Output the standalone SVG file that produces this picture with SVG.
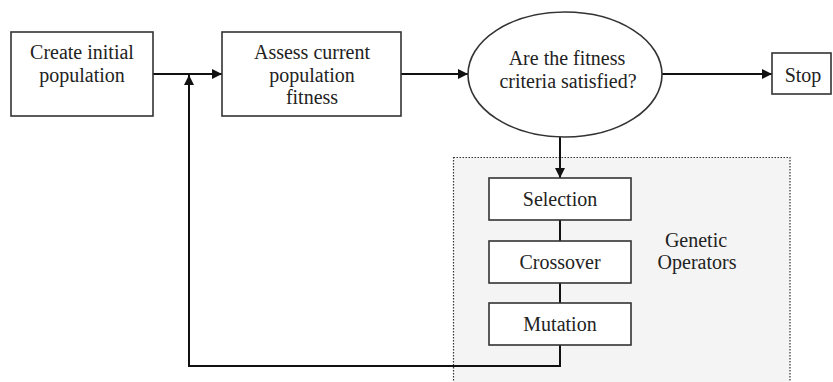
<svg xmlns="http://www.w3.org/2000/svg" width="833" height="382" viewBox="0 0 833 382">
<style>
.box{fill:#fff;stroke:#333;stroke-width:1.6}
.t{font-family:"Liberation Serif","Times New Roman",serif;font-size:20px;fill:#222;text-anchor:middle}
.c{fill:none;stroke:#111;stroke-width:2}
.region{fill:#f4f4f4;stroke:#333;stroke-width:1.2;stroke-dasharray:1.5 1.5}
</style>
<defs>
<marker id="ah" viewBox="0 0 10 10" refX="10" refY="5" markerWidth="11" markerHeight="10" markerUnits="userSpaceOnUse" orient="auto">
<path d="M0,0 L10,5 L0,10 z" fill="#111"/>
</marker>
</defs>
<rect width="833" height="382" fill="#fff"/>
<g id="genetic-operators">
<rect class="region" x="453.5" y="157.5" width="336.5" height="240"/>
<text class="t" x="696" y="247">Genetic</text>
<text class="t" x="697" y="269">Operators</text>
</g>
<g id="connectors">
<line class="c" x1="153" y1="74" x2="222" y2="74" marker-end="url(#ah)"/>
<line class="c" x1="401" y1="74" x2="468" y2="74" marker-end="url(#ah)"/>
<line class="c" x1="662" y1="74" x2="772" y2="74" marker-end="url(#ah)"/>
<line class="c" x1="560" y1="137" x2="560" y2="178" marker-end="url(#ah)"/>
<line class="c" x1="560" y1="220" x2="560" y2="241" stroke-width="1.5"/>
<line class="c" x1="560" y1="283" x2="560" y2="303" stroke-width="1.5"/>
<path class="c" d="M560,345 V366 H189 V75" marker-end="url(#ah)"/>
</g>
<g id="create">
<rect class="box" x="11" y="32" width="142" height="84"/>
<text class="t" x="82" y="59">Create initial</text>
<text class="t" x="82" y="82">population</text>
</g>
<g id="assess">
<rect class="box" x="222" y="32" width="179" height="84"/>
<text class="t" x="312" y="59">Assess current</text>
<text class="t" x="312" y="82">population</text>
<text class="t" x="312" y="104">fitness</text>
</g>
<g id="criteria">
<ellipse class="box" cx="565" cy="74.5" rx="97" ry="62.5"/>
<text class="t" x="567" y="65">Are the fitness</text>
<text class="t" x="568" y="88">criteria satisfied?</text>
</g>
<g id="stop">
<rect class="box" x="772" y="53" width="59" height="41"/>
<text class="t" x="803" y="82">Stop</text>
</g>
<g id="selection">
<rect class="box" x="489" y="178" width="142" height="42"/>
<text class="t" x="560" y="206">Selection</text>
</g>
<g id="crossover">
<rect class="box" x="489" y="241" width="142" height="42"/>
<text class="t" x="560" y="269">Crossover</text>
</g>
<g id="mutation">
<rect class="box" x="489" y="303" width="142" height="42"/>
<text class="t" x="560" y="331">Mutation</text>
</g>
</svg>
